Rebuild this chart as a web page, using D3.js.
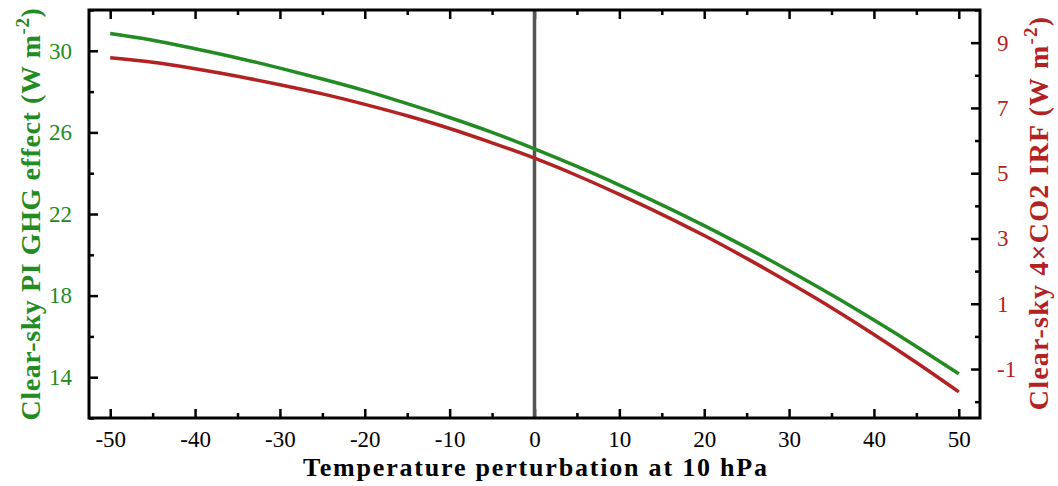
<!DOCTYPE html>
<html>
<head>
<meta charset="utf-8">
<script src="https://cdn.jsdelivr.net/npm/d3@7"></script>
<style>
  body { margin: 0; background: #fff; }
  text { font-family: "Liberation Serif", "DejaVu Serif", serif; }
</style>
</head>
<body>
<div id="chart"></div>
<script>
// temperature perturbation at 10 hPa (K)
const temps = [-50, -45, -40, -35, -30, -25, -20, -15, -10, -5, 0, 5, 10, 15, 20, 25, 30, 35, 40, 45, 50];
// clear-sky PI GHG effect (left axis)
const ghgEffect = [30.85, 30.52, 30.10, 29.65, 29.15, 28.62, 28.05, 27.41, 26.73, 26.00, 25.19,
                   24.33, 23.42, 22.45, 21.43, 20.35, 19.22, 18.04, 16.80, 15.51, 14.17];
// clear-sky 4xCO2 IRF (right axis)
const irf4x = [8.54, 8.40, 8.20, 7.97, 7.71, 7.43, 7.11, 6.76, 6.37, 5.93, 5.46,
               4.93, 4.35, 3.74, 3.09, 2.39, 1.65, 0.88, 0.06, -0.80, -1.70];

const xTicks = [-50, -40, -30, -20, -10, 0, 10, 20, 30, 40, 50];
const leftTicks = [14, 18, 22, 26, 30];
const rightTicks = [-1, 1, 3, 5, 7, 9];

const width = 1058, height = 486,
      margin = ({ top: 10, right: 78, bottom: 68, left: 89 });

const green = "#228b22", red = "#b22222";

const svg = d3.select("#chart")
    .append("svg")
    .attr("width", width)
    .attr("height", height);

const x = d3.scaleLinear()
    .domain([-52.5, 52.5])
    .range([margin.left, width - margin.right]);

const yL = d3.scaleLinear()
    .domain([12, 32])
    .range([height - margin.bottom, margin.top]);

const yR = d3.scaleLinear()
    .domain([-2.5, 10])
    .range([height - margin.bottom, margin.top]);

// minor tick helpers
const xMinor = d3.range(-50, 51, 5).filter(d => !xTicks.includes(d));
const lMinor = d3.range(12, 33, 2).filter(d => !leftTicks.includes(d));
const rMinor = d3.range(-2, 11, 1).filter(d => !rightTicks.includes(d));

const fmt = d => d < 0 ? "-" + Math.abs(d) : String(d);

const styleTicks = g => g
    .call(g => g.select(".domain").remove())
    .call(g => g.selectAll("line").attr("stroke", "#000").attr("stroke-width", 2.5));

// bottom axis
svg.append("g")
    .attr("transform", `translate(0, ${height - margin.bottom})`)
    .call(d3.axisBottom(x).tickValues(xTicks).tickFormat(fmt).tickSizeInner(-9).tickSizeOuter(0).tickPadding(13))
    .call(styleTicks)
    .call(g => g.selectAll("text").attr("font-size", 23).attr("fill", "#000"));
svg.append("g")
    .attr("transform", `translate(0, ${height - margin.bottom})`)
    .call(d3.axisBottom(x).tickValues(xMinor).tickFormat("").tickSizeInner(-5).tickSizeOuter(0))
    .call(styleTicks);

// top axis (ticks only)
svg.append("g")
    .attr("transform", `translate(0, ${margin.top})`)
    .call(d3.axisTop(x).tickValues(xTicks).tickFormat("").tickSizeInner(-9).tickSizeOuter(0))
    .call(styleTicks);
svg.append("g")
    .attr("transform", `translate(0, ${margin.top})`)
    .call(d3.axisTop(x).tickValues(xMinor).tickFormat("").tickSizeInner(-5).tickSizeOuter(0))
    .call(styleTicks);

// left axis
svg.append("g")
    .attr("transform", `translate(${margin.left}, 0)`)
    .call(d3.axisLeft(yL).tickValues(leftTicks).tickSizeInner(-9).tickSizeOuter(0).tickPadding(17))
    .call(styleTicks)
    .call(g => g.selectAll("text").attr("font-size", 23).attr("fill", green));
svg.append("g")
    .attr("transform", `translate(${margin.left}, 0)`)
    .call(d3.axisLeft(yL).tickValues(lMinor).tickFormat("").tickSizeInner(-5).tickSizeOuter(0))
    .call(styleTicks);

// right axis
svg.append("g")
    .attr("transform", `translate(${width - margin.right}, 0)`)
    .call(d3.axisRight(yR).tickValues(rightTicks).tickFormat(fmt).tickSizeInner(-9).tickSizeOuter(0).tickPadding(17))
    .call(styleTicks)
    .call(g => g.selectAll("text").attr("font-size", 23).attr("fill", red));
svg.append("g")
    .attr("transform", `translate(${width - margin.right}, 0)`)
    .call(d3.axisRight(yR).tickValues(rMinor).tickFormat("").tickSizeInner(-5).tickSizeOuter(0))
    .call(styleTicks);

// vertical zero line
svg.append("line")
    .attr("x1", x(0)).attr("x2", x(0))
    .attr("y1", margin.top).attr("y2", height - margin.bottom)
    .attr("stroke", "#555")
    .attr("stroke-width", 3.5);

// curves
const lineL = d3.line()
    .x((d, i) => x(temps[i]))
    .y(d => yL(d))
    .curve(d3.curveMonotoneX);
const lineR = d3.line()
    .x((d, i) => x(temps[i]))
    .y(d => yR(d))
    .curve(d3.curveMonotoneX);

svg.append("path")
    .datum(ghgEffect)
    .attr("d", lineL)
    .attr("fill", "none")
    .attr("stroke", green)
    .attr("stroke-width", 3.5);

svg.append("path")
    .datum(irf4x)
    .attr("d", lineR)
    .attr("fill", "none")
    .attr("stroke", red)
    .attr("stroke-width", 3.5);

// frame
svg.append("rect")
    .attr("x", margin.left).attr("y", margin.top)
    .attr("width", width - margin.left - margin.right)
    .attr("height", height - margin.top - margin.bottom)
    .attr("fill", "none")
    .attr("stroke", "#000")
    .attr("stroke-width", 3);

// axis titles
svg.append("text")
    .attr("x", 535)
    .attr("y", 476)
    .attr("text-anchor", "middle")
    .attr("font-size", 26)
    .attr("font-weight", "bold")
    .attr("textLength", 464)
    .attr("lengthAdjust", "spacing")
    .text("Temperature perturbation at 10 hPa");

const lt = svg.append("text")
    .attr("transform", `translate(40, 214) rotate(-90)`)
    .attr("text-anchor", "middle")
    .attr("font-size", 28)
    .attr("font-weight", "bold")
    .attr("letter-spacing", 0.6)
    .attr("fill", green);
lt.append("tspan").text("Clear-sky PI GHG effect (W m");
lt.append("tspan").attr("dy", -11).attr("font-size", 19).text("-2");
lt.append("tspan").attr("dy", 11).text(")");

const rt = svg.append("text")
    .attr("transform", `translate(1048, 213) rotate(-90)`)
    .attr("text-anchor", "middle")
    .attr("font-size", 28)
    .attr("font-weight", "bold")
    .attr("letter-spacing", 1.2)
    .attr("fill", red);
rt.append("tspan").text("Clear-sky 4\u00d7CO2 IRF (W m");
rt.append("tspan").attr("dy", -11).attr("font-size", 19).text("-2");
rt.append("tspan").attr("dy", 11).text(")");
</script>
</body>
</html>
